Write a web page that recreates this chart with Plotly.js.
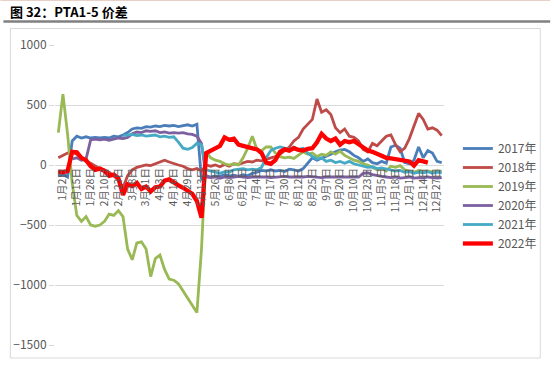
<!DOCTYPE html>
<html><head><meta charset="utf-8">
<script src="https://cdn.plot.ly/plotly-3.0.1.min.js"></script>
<style>html,body{margin:0;padding:0;background:#fff;}#chart{width:554px;height:365px;}</style>
</head><body><div id="chart"></div>
<script>
const tickLabels = ["1月2日","1月15日","1月28日","2月10日","2月23日","3月8日","3月21日","4月3日","4月16日","4月29日","5月13日","5月26日","6月8日","6月21日","7月4日","7月17日","7月30日","8月12日","8月25日","9月7日","9月20日","10月10日","10月23日","11月5日","11月18日","12月1日","12月14日","12月27日"];
const seriesNames = ["2017年","2018年","2019年","2020年","2021年","2022年"];
const s2017 = [-90,-80,-100,200,240,225,235,225,230,225,230,225,240,235,250,270,300,310,305,320,315,325,320,330,325,330,320,330,335,325,340,-120,-90,-100,-90,-95,-80,-90,-85,-95,-80,-90,-70,-60,-45,-50,-40,-50,-45,-55,-35,-40,-50,-30,20,60,40,55,70,90,110,125,130,110,80,60,30,50,20,10,30,15,150,165,140,20,10,40,150,60,120,100,30,20];
const s2018 = [60,80,100,110,90,60,30,15,-10,-30,-40,-60,-90,-120,-190,-90,-40,-20,-10,0,-5,10,20,40,25,10,0,-10,-30,-40,-30,-50,0,-10,0,-15,5,-10,10,5,20,30,25,40,35,50,60,70,90,120,150,200,230,300,340,380,550,440,460,420,310,270,300,240,230,200,130,110,180,160,200,240,250,170,110,140,220,320,430,380,300,310,290,245];
const s2019 = [270,590,260,-150,-420,-470,-430,-500,-510,-500,-470,-410,-420,-380,-430,-700,-790,-650,-640,-700,-930,-780,-750,-870,-950,-960,-990,-1050,-1100,-1160,-1230,-700,110,60,40,30,10,0,10,0,60,140,240,130,120,150,150,100,70,60,65,55,80,110,90,100,70,90,80,110,90,115,80,60,40,30,10,0,-20,-40,-30,-50,-10,-20,-5,-40,-50,-60,-45,-55,-50,-60,-50,-55];
const s2020 = [null,null,null,50,60,40,50,210,215,210,215,205,215,225,220,230,260,275,270,285,280,285,270,275,265,270,265,270,260,255,240,180,-100,-105,-100,-110,-100,-105,-100,-95,-100,-105,-100,-100,-95,-100,-105,-100,-100,-95,-100,-100,-105,-100,-95,-100,-100,-105,-100,-100,-95,-100,-100,-100,-95,-100,-70,-65,-80,-90,-95,-100,-105,-100,-110,-105,-100,-110,-105,-110,-100,-105,-110,-105];
const s2021 = [null,null,null,null,null,null,null,null,null,null,null,null,null,null,245,250,255,245,250,240,245,250,235,240,230,235,190,140,130,145,180,170,-40,-50,-60,-70,-55,-60,-40,-35,-30,-40,-35,-40,-20,60,120,140,150,140,130,150,130,140,100,70,50,60,30,40,20,30,15,30,10,0,-10,-20,-15,-30,-25,-35,-40,-50,-45,-60,-55,-70,-60,-65,-55,-70,-60,-65];
const s2022 = [-55,-60,-50,110,105,60,40,-10,-40,-30,-50,-90,-80,-110,-250,-160,-175,-150,-200,-180,-220,-185,-180,-130,-120,-150,-170,-190,-210,-240,-300,-440,100,120,140,160,230,210,220,170,160,150,140,130,100,20,10,40,110,130,120,140,125,120,135,140,190,260,220,200,220,170,200,190,200,170,140,120,110,90,80,60,55,50,45,40,30,-5,40,30,20,null,null,null];

const allSeries = [s2017,s2018,s2019,s2020,s2021,s2022];
const colors = ["#4A7EBB","#BE4B48","#98B954","#7D60A0","#46AAC5","#FF0000"];
const widths = [2.8,2.8,2.8,2.8,2.8,4.3];
const xs = s2017.map((_, k) => k - 1);

const traces = allSeries.map((ys, i) => ({
  type: "scatter", mode: "lines", name: seriesNames[i],
  x: xs, y: ys, line: {color: colors[i], width: widths[i]},
  connectgaps: false, hoverinfo: "skip"
}));

const L = 55, T = 45, W = 392, H = 300;
const px = v => (v - L) / W;
const py = v => (T + H - v) / H;

const layout = {
  width: 554, height: 365,
  margin: {l: L, r: 554 - L - W, t: T, b: 365 - T - H},
  paper_bgcolor: "#fff", plot_bgcolor: "#fff",
  font: {family: "'Noto Sans CJK SC', 'Noto Sans', sans-serif", color: "#595959"},
  showlegend: true,
  title: {text: "<b>图 32：PTA1-5 价差</b>", x: 10/554, xanchor: "left", y: 1 - 12/365, yanchor: "middle",
          xref: "container", yref: "container", font: {size: 13, color: "#000", family: "'Noto Sans CJK SC', sans-serif"}},
  xaxis: {
    range: [-1.72, 82.5], anchor: "free", position: 0.6,
    tickvals: tickLabels.map((_, i) => i * 3), ticktext: tickLabels,
    tickangle: -90, tickfont: {size: 10.5, color: "#595959"},
    showgrid: false, zeroline: false, showline: false, ticks: "", fixedrange: true
  },
  yaxis: {
    range: [-1500, 1000], tickvals: [-1500,-1000,-500,0,500,1000],
    tickfont: {size: 12, color: "#595959"},
    showgrid: true, gridcolor: "#d9d9d9", gridwidth: 1,
    zeroline: true, zerolinecolor: "#d9d9d9", zerolinewidth: 1,
    ticks: "outside", ticklen: 5, tickcolor: "#d9d9d9", showline: false, fixedrange: true
  },
  legend: {x: px(461), y: py(134), xanchor: "left", yanchor: "top",
           font: {size: 12, color: "#595959"}, bgcolor: "rgba(0,0,0,0)", itemwidth: 30, tracegroupgap: 0},
  shapes: [
    {type: "line", xref: "paper", yref: "paper", x0: px(0), x1: px(554), y0: py(0.5), y1: py(0.5), line: {color: "#e8cfc8", width: 1}},
    {type: "line", xref: "paper", yref: "paper", x0: px(3), x1: px(554), y0: py(21.5), y1: py(21.5), line: {color: "#808080", width: 2.5}},
    {type: "rect", xref: "paper", yref: "paper", x0: px(10), x1: px(544), y0: py(358), y1: py(28.5), line: {color: "#d9d9d9", width: 1}}
  ]
};

Plotly.newPlot("chart", traces, layout, {staticPlot: true, displayModeBar: false});
</script></body></html>
